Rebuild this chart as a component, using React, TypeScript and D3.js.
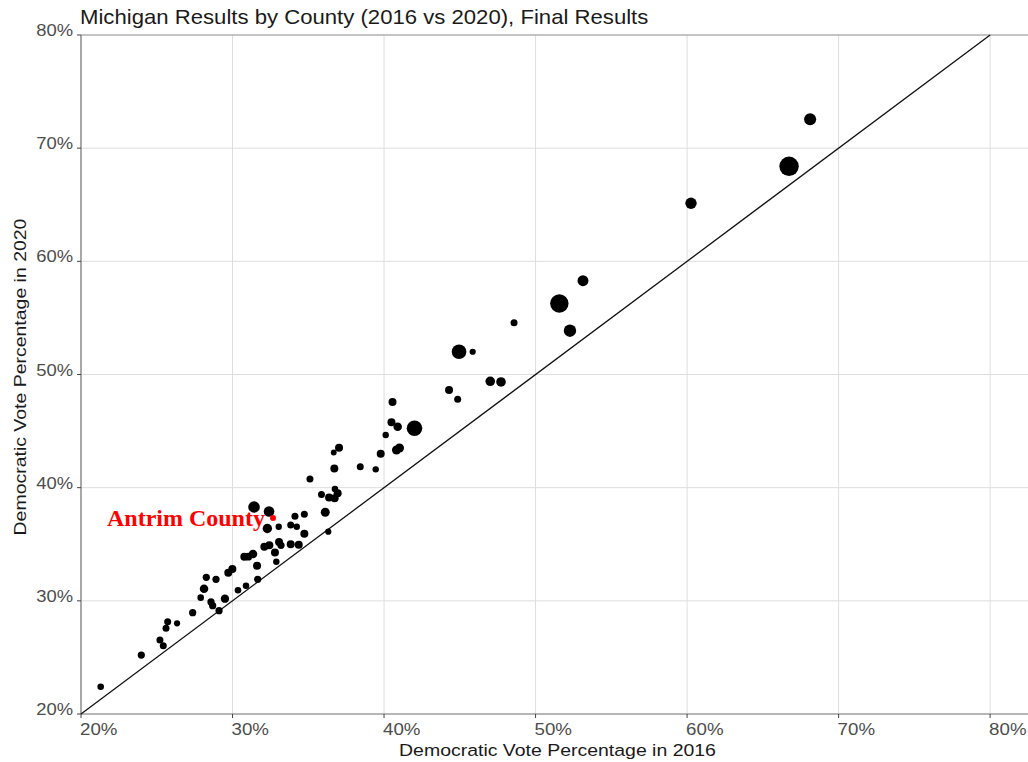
import React from "react";
import * as d3 from "d3";

const titleText = "Michigan Results by County (2016 vs 2020), Final Results";
const xTitle = "Democratic Vote Percentage in 2016";
const yTitle = "Democratic Vote Percentage in 2020";

// Democratic share 2016 (%) per county
const dem2016 = [
  21.30, 23.98, 25.21, 25.43, 25.61, 25.72, 26.34, 27.37, 27.90, 28.12,
  28.27, 28.58, 28.69, 28.91, 29.11, 29.50, 29.72, 29.99, 30.36, 30.89,
  30.78, 31.04, 31.35, 31.62, 31.66, 31.42, 32.41, 32.30, 33.05, 32.10,
  32.43, 32.80, 33.07, 33.20, 32.89, 33.84, 34.37, 33.84, 34.24, 34.12,
  34.74, 34.74, 35.11, 35.87, 36.76, 36.94, 36.37, 36.74, 36.12, 36.32,
  37.03, 36.68, 36.72, 38.43, 39.45, 39.78, 40.11, 40.56, 40.49, 40.90,
  42.01, 40.82, 41.02, 44.29, 44.86, 44.95, 45.85, 47.01, 47.72, 48.58,
  51.57, 52.27, 53.13, 60.26, 66.73, 68.12,
];
// Democratic share 2020 (%) per county
const dem2020 = [
  22.41, 25.21, 26.54, 26.04, 27.57, 28.16, 28.01, 28.95, 30.28, 31.07,
  32.08, 29.90, 29.57, 31.90, 29.13, 30.19, 32.49, 32.81, 30.93, 31.34,
  33.90, 33.90, 34.14, 33.10, 31.90, 38.29, 37.89, 36.39, 36.55, 34.78,
  34.91, 34.27, 35.20, 34.91, 33.46, 35.00, 34.96, 36.70, 36.55, 37.47,
  37.65, 35.93, 40.77, 39.40, 39.88, 39.50, 39.13, 39.06, 37.83, 36.11,
  43.53, 43.11, 41.69, 41.85, 41.62, 42.99, 44.65, 47.57, 45.78, 45.39,
  45.25, 43.33, 43.51, 48.63, 47.81, 52.01, 52.01, 49.40, 49.34, 54.58,
  56.27, 53.87, 58.29, 65.13, 68.40, 72.55,
];
// Total votes (thousands) per county
const totalVotes = [
  10, 20, 16, 16, 16, 16, 6, 20, 10, 50,
  20, 20, 20, 20, 20, 45, 36, 36, 10, 10,
  36, 30, 50, 36, 20, 175, 125, 78, 8, 36,
  36, 36, 36, 20, 8, 36, 36, 16, 8, 16,
  16, 36, 16, 16, 10, 36, 36, 36, 64, 6,
  36, 3, 36, 16, 8, 36, 8, 36, 36, 50,
  450, 64, 64, 36, 16, 370, 6, 85, 85, 16,
  720, 220, 140, 160, 830, 200,
];

const highlightName = "Antrim County";
const highlight2016 = 32.67;
const highlight2020 = 37.32;

const xTicks = [20, 30, 40, 50, 60, 70, 80];
const yTicks = [20, 30, 40, 50, 60, 70, 80];

const W = 1028;
const H = 762;
const left = 81;
const right = 1028;
const top = 35;
const bottom = 714;

export default function App() {
  const x = d3.scaleLinear().domain([20, 82.5]).range([left, right]);
  const y = d3.scaleLinear().domain([20, 80]).range([bottom, top]);
  const r = d3.scaleSqrt().domain([0, 900]).range([2.5, 10]);
  const fmt = (v: number) => `${v}%`;
  const points = dem2016.map((d, i) => ({ x: d, y: dem2020[i], v: totalVotes[i] }));
  const line = d3.line<number>().x((d) => x(d)).y((d) => y(d));
  const sans = "'Liberation Sans', Arial, Helvetica, sans-serif";

  return (
    <svg
      width={W}
      height={H}
      style={{ position: "absolute", left: 0, top: 0, background: "#fff" }}
    >
      <rect x={0} y={0} width={W} height={H} fill="#fff" />
      {/* grid */}
      {xTicks.filter((t) => t > 20).map((t) => (
        <line key={"gx" + t} x1={x(t)} x2={x(t)} y1={top} y2={bottom} stroke="#dedede" strokeWidth={1} />
      ))}
      {yTicks.filter((t) => t > 20 && t < 80).map((t) => (
        <line key={"gy" + t} x1={left} x2={right} y1={y(t)} y2={y(t)} stroke="#dedede" strokeWidth={1} />
      ))}
      {/* frame */}
      <line x1={left} x2={right} y1={top} y2={top} stroke="#8a8a8a" strokeWidth={1.2} />
      <line x1={left} x2={left} y1={top} y2={bottom} stroke="#6e6e6e" strokeWidth={1.2} />
      <line x1={left} x2={right} y1={bottom} y2={bottom} stroke="#6e6e6e" strokeWidth={1.2} />
      {/* ticks */}
      {xTicks.map((t) => (
        <line key={"tx" + t} x1={x(t)} x2={x(t)} y1={bottom} y2={bottom + 4} stroke="#444" strokeWidth={1} />
      ))}
      {yTicks.map((t) => (
        <line key={"ty" + t} x1={left - 4} x2={left} y1={y(t)} y2={y(t)} stroke="#444" strokeWidth={1} />
      ))}
      {/* tick labels */}
      {xTicks.map((t) => (
        <text key={"lx" + t} transform={`translate(${x(t) - 1},${bottom + 21}) scale(1.17,1)`}
          fontFamily={sans} fontSize={16} fill="#4d4d4d" textAnchor="start">{fmt(t)}</text>
      ))}
      {yTicks.map((t) => (
        <text key={"ly" + t} transform={`translate(${left - 8},${y(t) + 1}) scale(1.15,1)`}
          fontFamily={sans} fontSize={16} fill="#4d4d4d" textAnchor="end">{fmt(t)}</text>
      ))}
      {/* diagonal */}
      <path d={line([20, 80]) || ""} fill="none" stroke="#111" strokeWidth={1.3} />
      {/* points */}
      {points.map((p, i) => (
        <circle key={i} cx={x(p.x)} cy={y(p.y)} r={r(p.v)} fill="#000" />
      ))}
      {/* highlight */}
      <circle cx={x(highlight2016)} cy={y(highlight2020)} r={3} fill="#ff0000" />
      <text x={x(highlight2016) - 8} y={y(highlight2020) + 8} textAnchor="end"
        fontFamily="'Liberation Serif', 'Times New Roman', serif" fontWeight="bold" fontSize={24} fill="#ff0000">
        {highlightName}
      </text>
      {/* titles */}
      <text transform={`translate(80,24) scale(1.08,1)`} fontFamily={sans} fontSize={20.5} fill="#1a1a1a">{titleText}</text>
      <text transform={`translate(557.5,756) scale(1.18,1)`} textAnchor="middle"
        fontFamily={sans} fontSize={16.5} fill="#1a1a1a">{xTitle}</text>
      <text transform={`translate(26,377) rotate(-90) scale(1.18,1)`} textAnchor="middle"
        fontFamily={sans} fontSize={16.5} fill="#1a1a1a">{yTitle}</text>
    </svg>
  );
}
